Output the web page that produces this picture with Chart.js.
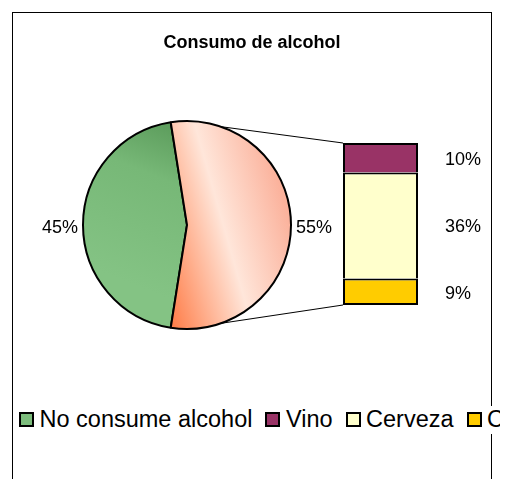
<!DOCTYPE html>
<html lang="es">
<head>
<meta charset="UTF-8">
<title>Consumo de alcohol</title>
<script src="https://cdn.jsdelivr.net/npm/chart.js@4.4.1/dist/chart.umd.min.js"></script>
<style>
    html, body { margin: 0; padding: 0; background: #fff; overflow: hidden; }
    body { width: 506px; height: 479px; position: relative; font-family: Arial, "Liberation Sans", sans-serif; }
    #frame { position: absolute; left: 12px; top: 12px; width: 478px; height: 490px; border: 1px solid #000; }
    canvas { position: absolute; left: 0; top: 0; }
    #title { position: absolute; left: 12px; width: 480px; top: 32px; text-align: center;
             font-weight: bold; font-size: 18px; line-height: normal; color: #000; }
    #legend { position: absolute; left: 19px; top: 406px; width: 481px; height: 28px; overflow: hidden;
              white-space: nowrap; font-size: 23.5px; line-height: normal; background: #fff; color: #000; }
    #legend .box { display: inline-block; width: 11px; height: 11px; border: 2px solid #000;
                   vertical-align: baseline; margin-right: 5.5px; }
    #legend .item { margin-right: 13px; }
</style>
</head>
<body>
    <div id="frame"></div>
    <canvas id="pieChart" width="506" height="479"></canvas>
    <canvas id="barChart" width="506" height="479"></canvas>
    <div id="title">Consumo de alcohol</div>
    <div id="legend"></div>

<script>
// main pie: people who don't drink vs. people who do
const pieLabels = ['No consume alcohol', 'Consume alcohol'];
const pieValues = [45, 55];

// breakdown of the drinkers' slice, top to bottom in the bar
const barLabels = ['Vino', 'Cerveza', 'Combinados'];
const barValues = [10, 36, 9];
const barColors = ['#993366', '#ffffcc', '#ffcc00'];

const PIE_RADIUS = 104;
const LINK_ANGLE = 71 * Math.PI / 180;

Chart.defaults.font.family = 'Arial, "Liberation Sans", sans-serif';
Chart.defaults.color = '#000';

const pieTotal = pieValues.reduce((a, b) => a + b, 0);
const barTotal = barValues.reduce((a, b) => a + b, 0);

function pieFill(context) {
    const area = context.chart.chartArea;
    const flat = ['#7cbc7c', '#ffd9c8'];
    if (!area) return flat[context.dataIndex];
    const ctx = context.chart.ctx;
    const cx = (area.left + area.right) / 2;
    const cy = (area.top + area.bottom) / 2;
    const r = PIE_RADIUS;
    let g;
    if (context.dataIndex === 0) {
        g = ctx.createLinearGradient(cx - 0.1 * r, cy - r, cx - 0.7 * r, cy + 0.5 * r);
        g.addColorStop(0, '#5a9a5a');
        g.addColorStop(0.35, '#77b877');
        g.addColorStop(1, '#84c384');
    } else {
        g = ctx.createLinearGradient(cx - 0.37 * r, cy + 0.27 * r, cx + 0.97 * r, cy - 0.11 * r);
        g.addColorStop(0, '#ff7a44');
        g.addColorStop(0.55, '#ffe6da');
        g.addColorStop(1, '#fbb29c');
    }
    return g;
}

// percentage next to each slice, outside the rim
const pieValueLabels = {
    id: 'pieValueLabels',
    afterDatasetsDraw(chart) {
        const ctx = chart.ctx;
        ctx.save();
        ctx.font = '18px Arial, "Liberation Sans", sans-serif';
        ctx.fillStyle = '#000';
        ctx.textBaseline = 'alphabetic';
        chart.getDatasetMeta(0).data.forEach((arc, i) => {
            const mid = (arc.startAngle + arc.endAngle) / 2;
            const r = arc.outerRadius + 5;
            const px = arc.x + Math.cos(mid) * r;
            const py = arc.y + Math.sin(mid) * r;
            ctx.textAlign = Math.cos(mid) < 0 ? 'right' : 'left';
            ctx.fillText(pieValues[i] + '%', px, py + 8);
        });
        ctx.restore();
    }
};

const pieChart = new Chart(document.getElementById('pieChart'), {
    type: 'pie',
    data: {
        labels: pieLabels,
        datasets: [{
            data: pieValues,
            backgroundColor: pieFill,
            borderColor: '#000',
            borderWidth: 2
        }]
    },
    options: {
        responsive: false,
        animation: false,
        events: [],
        // the drinkers' slice faces the bar on the right
        rotation: 270 - pieValues[0] / pieTotal * 180,
        radius: PIE_RADIUS,
        layout: { padding: { left: 0, right: 132, top: 0, bottom: 29 } },
        plugins: {
            legend: { display: false },
            tooltip: { enabled: false }
        }
    },
    plugins: [pieValueLabels]
});

// lines from the pie to the bar, plus the bar's percentages
const barExtras = {
    id: 'barExtras',
    afterDatasetsDraw(chart) {
        const ctx = chart.ctx;
        const arc = pieChart.getDatasetMeta(0).data[1];
        const metas = chart.data.datasets.map((d, i) => chart.getDatasetMeta(i).data[0]);
        const bottomEl = metas[0];
        const topEl = metas[metas.length - 1];

        ctx.save();
        ctx.strokeStyle = '#000';
        ctx.lineWidth = 1;
        ctx.beginPath();
        ctx.moveTo(arc.x + Math.cos(LINK_ANGLE) * arc.outerRadius, arc.y - Math.sin(LINK_ANGLE) * arc.outerRadius);
        ctx.lineTo(topEl.x - topEl.width / 2, topEl.y);
        ctx.moveTo(arc.x + Math.cos(LINK_ANGLE) * arc.outerRadius, arc.y + Math.sin(LINK_ANGLE) * arc.outerRadius);
        ctx.lineTo(bottomEl.x - bottomEl.width / 2, bottomEl.base);
        ctx.stroke();

        ctx.font = '18px Arial, "Liberation Sans", sans-serif';
        ctx.fillStyle = '#000';
        ctx.textAlign = 'left';
        ctx.textBaseline = 'alphabetic';
        chart.data.datasets.forEach((ds, i) => {
            const el = metas[i];
            ctx.fillText(ds.data[0] + '%', el.x + el.width / 2 + 27, (el.y + el.base) / 2 + 7);
        });
        ctx.restore();
    }
};

// stacked from the bottom up, so the last category goes first;
// each segment carries the dividing line on its top edge
const barDatasets = barLabels.map((label, i) => {
    const isBottom = i === barLabels.length - 1;
    return {
        label: label,
        data: [barValues[i]],
        backgroundColor: barColors[i],
        borderColor: '#000',
        borderWidth: { left: 2, right: 2, top: 2, bottom: isBottom ? 2 : 0 },
        borderSkipped: false,
        inflateAmount: 0
    };
}).reverse();

const barChart = new Chart(document.getElementById('barChart'), {
    type: 'bar',
    data: { labels: [''], datasets: barDatasets },
    options: {
        responsive: false,
        animation: false,
        events: [],
        layout: { padding: { left: 343, right: 88, top: 143, bottom: 174 } },
        datasets: { bar: { barPercentage: 1, categoryPercentage: 1 } },
        scales: {
            x: { display: false, stacked: true },
            y: { display: false, stacked: true, min: 0, max: barTotal }
        },
        plugins: {
            legend: { display: false },
            tooltip: { enabled: false }
        }
    },
    plugins: [barExtras]
});

// legend row under the chart
const legendItems = [{ text: pieLabels[0], color: '#7cbc7c' }]
    .concat(barLabels.map((t, i) => ({ text: t, color: barColors[i] })));
const legendEl = document.getElementById('legend');
legendItems.forEach(item => {
    const box = document.createElement('span');
    box.className = 'box';
    box.style.background = item.color;
    const label = document.createElement('span');
    label.className = 'item';
    label.textContent = item.text;
    legendEl.appendChild(box);
    legendEl.appendChild(label);
});
</script>
</body>
</html>
